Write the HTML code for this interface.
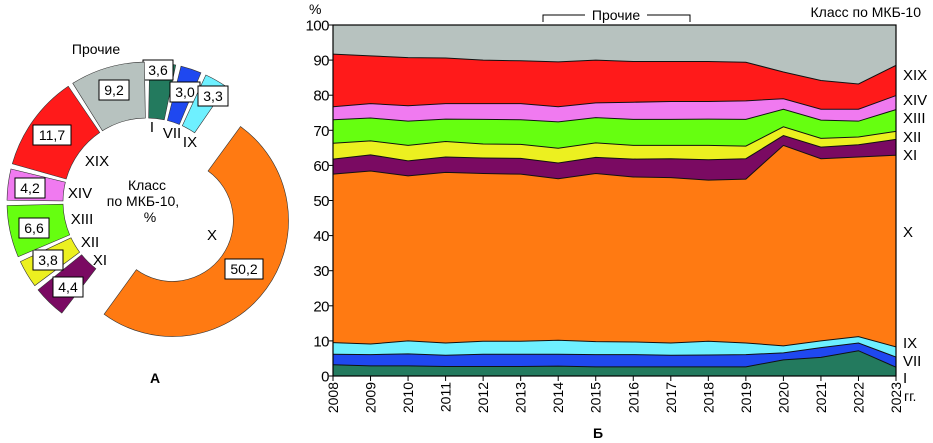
<!DOCTYPE html>
<html><head><meta charset="utf-8"><style>
body{margin:0;background:#fff;width:933px;height:443px;overflow:hidden}
svg{display:block}
text{font-family:"Liberation Sans","DejaVu Sans",sans-serif;fill:#000}
</style></head><body>
<svg id="s" width="933" height="443" viewBox="0 0 933 443">
<g id="donut"></g>
<g id="area"></g>
</svg>
<script>
// ---- Donut data (panel A) ----
const donutLabels=["I","VII","IX","X","XI","XII","XIII","XIV","XIX","Прочие"];
const donutValues=[3.6,3.0,3.3,50.2,4.4,3.8,6.6,4.2,11.7,9.2];
const donutText=["3,6","3,0","3,3","50,2","4,4","3,8","6,6","4,2","11,7","9,2"];
const colors=["#237a5e","#1f48f0","#6ef0ff","#ff7a12","#7a0a62","#ecf020","#66ff10","#f07af0","#ff1a1a","#b7c2bf"];

// ---- Area chart data (panel B), cumulative tops of each class ----
const years=["2008","2009","2010","2011","2012","2013","2014","2015","2016","2017","2018","2019","2020","2021","2022","2023"];
const yTicks=[0,10,20,30,40,50,60,70,80,90,100];
const cumI   =[3.2,2.9,2.9,2.7,2.7,2.7,2.8,2.6,2.6,2.6,2.6,2.6,4.6,5.3,7.2,2.5];
const cumVII =[6.2,6.1,6.3,5.9,6.2,6.2,6.2,6.1,6.1,5.9,6.0,6.1,6.6,8.1,9.4,5.4];
const cumIX  =[9.5,9.1,10.0,9.4,9.9,9.9,10.2,9.8,9.7,9.4,9.9,9.4,8.6,10.0,11.2,8.3];
const cumX   =[57.5,58.4,57.0,58.0,57.7,57.5,56.2,57.7,56.7,56.5,55.8,56.1,65.7,61.9,62.4,62.9];
const cumXI  =[61.8,63.0,61.3,62.4,62.1,62.0,60.7,62.3,61.8,61.9,61.6,61.9,68.5,65.2,65.9,67.4];
const cumXII =[66.3,67.0,65.7,66.8,66.1,66.0,64.9,66.4,65.7,65.7,65.7,65.5,71.0,67.7,68.1,69.7];
const cumXIII=[73.0,73.5,72.6,73.2,73.1,73.0,72.4,73.6,73.1,73.1,73.2,73.1,76.0,72.9,72.6,75.9];
const cumXIV =[76.7,77.6,77.0,77.6,77.6,77.6,76.7,77.8,78.0,78.2,78.2,78.4,79.0,76.0,76.0,79.9];
const cumXIX =[91.7,91.2,90.7,90.6,90.0,89.8,89.5,90.0,89.6,89.6,89.6,89.4,86.6,84.2,83.2,88.5];
const cumOther=[100,100,100,100,100,100,100,100,100,100,100,100,100,100,100,100];

const NS="http://www.w3.org/2000/svg";
function mk(tag,attrs,parent,txt){const e=document.createElementNS(NS,tag);for(const k in attrs)e.setAttribute(k,attrs[k]);if(txt!==undefined)e.textContent=txt;parent.appendChild(e);return e;}

// ---- Donut ----
const D=document.getElementById('donut');
const cx=147,cy=202;
const total=donutValues.reduce((a,b)=>a+b,0);
function pt(a,r,ox,oy){const t=a*Math.PI/180;return [ox+r*Math.sin(t),oy-r*Math.cos(t)];}
const boxC=[[158,70],[185,92],[213,96],[244,269],[68,287],[48,260],[34,228],[30,188],[52,135],[114,90]];
let acc=0;
donutValues.forEach((v,i)=>{
  const a0=acc/total*360, a1=(acc+v)/total*360; acc+=v;
  const mid=(a0+a1)/2;
  const big=i===3;
  const ri=big?61:84, ro=big?116:140, ex=big?31:0;
  const [ox,oy]=pt(mid,ex,cx,cy);
  const gap=big?0.5:1.1;
  const p1=pt(a0+gap,ro,ox,oy),p2=pt(a1-gap,ro,ox,oy),p3=pt(a1-gap,ri,ox,oy),p4=pt(a0+gap,ri,ox,oy);
  const la=(a1-a0)>180?1:0;
  const path=mk('path',{d:`M${p1}A${ro},${ro} 0 ${la} 1 ${p2}L${p3}A${ri},${ri} 0 ${la} 0 ${p4}Z`,fill:colors[i],stroke:"#333","stroke-width":0.6},D);
  
  
  const [bx,by]=boxC[i];
  const w=donutText[i].length*8+6;
  const r=mk('rect',{x:bx-w/2,y:by-10,width:w,height:20,fill:"#fff",stroke:"#000","stroke-width":1},D);
  
  
  const t=mk('text',{x:bx,y:by+5,"text-anchor":"middle","font-size":14},D,donutText[i]);
  
  
});
const clsPos=[[152,132],[172,138],[190,147],[212,240],[100,265],[90,247],[82,224],[80,198],[97,166],[96,54]];
donutLabels.forEach((l,i)=>{
  const t=mk('text',{x:clsPos[i][0],y:clsPos[i][1],"text-anchor":"middle","font-size":i===9?14:15},D,l);
  
  
});
[["Класс",147,190],["по МКБ-10,",143,206],["%",150,222]].forEach(a=>{
  const t=mk('text',{x:a[1],y:a[2],"text-anchor":"middle","font-size":14},D,a[0]);
  
  
});
const tA=mk('text',{x:155,y:383,"text-anchor":"middle","font-size":14,"font-weight":"bold"},D,"А");



// ---- Area chart ----
const A=document.getElementById('area');
const X0=333,X1=896,Y0=376,Y1=25;
const xs=i=>X0+(X1-X0)*i/(years.length-1);
const ys=v=>Y0-(Y0-Y1)*v/100;
const stacks=[cumI,cumVII,cumIX,cumX,cumXI,cumXII,cumXIII,cumXIV,cumXIX,cumOther];
const areaColors=["#237a5e","#1f48f0","#6ef0ff","#ff7a12","#7a0a62","#ecf020","#66ff10","#f07af0","#ff1a1a","#b7c2bf"];
const names=["I","VII","IX","X","XI","XII","XIII","XIV","XIX","other"];
stacks.forEach((top,k)=>{
  const bot=k===0?years.map(()=>0):stacks[k-1];
  let d="M"+top.map((v,i)=>xs(i)+","+ys(v)).join("L");
  for(let i=years.length-1;i>=0;i--)d+="L"+xs(i)+","+ys(bot[i]);
  const p=mk('path',{d:d+"Z",fill:areaColors[k]},A);
  
  
});
stacks.slice(0,9).forEach((top,k)=>{
  const l=mk('polyline',{points:top.map((v,i)=>xs(i)+","+ys(v)).join(" "),fill:"none",stroke:"#111","stroke-width":1},A);
  
  
});
const frame=mk('rect',{x:X0,y:Y1,width:X1-X0,height:Y0-Y1,fill:"none",stroke:"#000","stroke-width":1.2},A);


yTicks.forEach(v=>{
  const tl=mk('line',{x1:X0-4,x2:X0,y1:ys(v),y2:ys(v),stroke:"#000"},A);
  
  
  const t=mk('text',{x:X0-4,y:ys(v)+5.5,"text-anchor":"end","font-size":15,"letter-spacing":"-0.5"},A,String(v));
  
  
});
years.forEach((y,i)=>{
  const tl=mk('line',{x1:xs(i),x2:xs(i),y1:Y0,y2:Y0+5,stroke:"#000"},A);
  
  
  const t=mk('text',{x:0,y:0,"text-anchor":"end","font-size":14,transform:`translate(${xs(i)+5},${Y0+6}) rotate(-90)`},A,y);
  
  
});
const rl=[["XIX",75],["XIV",100],["XIII",118],["XII",137],["XI",155],["X",232],["IX",343],["VII",361],["I",378]];
rl.forEach(a=>{
  const t=mk('text',{x:903,y:a[1]+5,"font-size":15},A,a[0]);
  
  
});
const misc=[["%",309,14,14,"percent-axis-unit","start"],["Класс по МКБ-10",921,17,14,"legend-title","end"],["гг.",904,401,14,"x-axis-unit","start"],["Б",598,438,14,"panel-label-b","middle"],["Прочие",616,20,14,"other-bracket-label","middle"]];
misc.forEach(m=>{
  const t=mk('text',{x:m[1],y:m[2],"font-size":m[3],"text-anchor":m[5],"font-weight":m[4]==="panel-label-b"?"bold":"normal"},A,m[0]);
  
  
});
const br=mk('path',{d:"M543,22V15H585M647,15H690V22",fill:"none",stroke:"#000","stroke-width":1},A);


</script>
</body></html>
